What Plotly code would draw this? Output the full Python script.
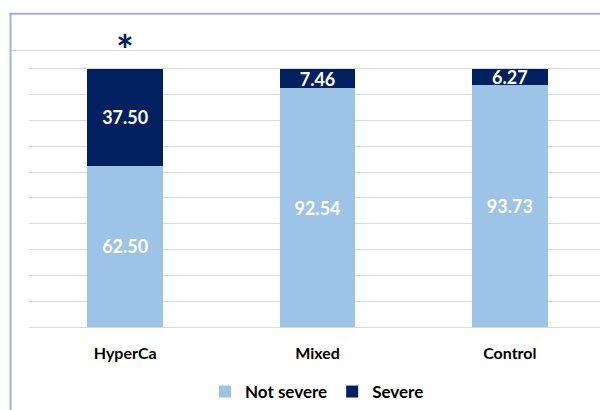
import plotly.graph_objects as go

groups = ["HyperCa", "Mixed", "Control"]
not_severe = [62.50, 92.54, 93.73]
severe = [37.50, 7.46, 6.27]

LIGHT = "#9dc3e6"
DARK = "#002060"
FONT = "Lato"

# pixel geometry of the plotting area (600x410 canvas)
W, H = 600, 410
L, R, T, B = 29, 0, 50, 82
plot_w, plot_h = W - L - R, H - T - B
y_top = 100 * plot_h / (328 - 69)


def px_x(px):
    return (px - L) / plot_w


def px_y(py):
    return (H - B - py) / plot_h


label_font = dict(family=FONT, size=18, color="white", weight="bold")

fig = go.Figure()
fig.add_trace(go.Bar(
    x=groups, y=not_severe, name="Not severe",
    marker=dict(color=LIGHT, line=dict(width=0)),
    text=[f"{v:.2f}" for v in not_severe], textposition="inside",
    insidetextanchor="middle", textfont=label_font,
))
fig.add_trace(go.Bar(
    x=groups, y=severe, name="Severe",
    marker=dict(color=DARK, line=dict(width=0)),
    text=[f"{v:.2f}" for v in severe], textposition="inside",
    insidetextanchor="middle", textfont=label_font,
))

fig.update_layout(
    width=W, height=H,
    margin=dict(l=L, r=R, t=T, b=B),
    barmode="stack", bargap=0.605,
    plot_bgcolor="white", paper_bgcolor="white",
    uniformtext=dict(minsize=18, mode="show"),
    font=dict(family=FONT, color="#000000"),
    legend=dict(
        orientation="h", x=px_x(317), xanchor="center",
        y=px_y(393), yanchor="middle",
        font=dict(family=FONT, size=17, weight="bold", color="#000000"),
        itemwidth=30, traceorder="normal",
    ),
    showlegend=True,
)
fig.update_xaxes(
    range=[-0.5, 2.5 - 6 / 192.5], showgrid=False,
    showline=True, linecolor="#d9d9d9", linewidth=1,
    ticks="", tickfont=dict(family=FONT, size=16, weight="bold", color="#000000"),
    ticklabelstandoff=12,
)
fig.update_yaxes(
    range=[0, y_top], dtick=10, showgrid=True, gridcolor="#d9d9d9",
    gridwidth=1, zeroline=False, showticklabels=False, ticks="",
)

# frame and separator lines
frame = "#9db3e3"
fig.add_shape(type="line", xref="paper", yref="paper",
              x0=px_x(10.5), x1=px_x(10.5), y0=px_y(12.5), y1=px_y(420),
              line=dict(color=frame, width=2))
fig.add_shape(type="line", xref="paper", yref="paper",
              x0=px_x(9.5), x1=px_x(610), y0=px_y(13.5), y1=px_y(13.5),
              line=dict(color=frame, width=2))
fig.add_shape(type="line", xref="paper", yref="paper",
              x0=px_x(12), x1=px_x(610), y0=px_y(50.5), y1=px_y(50.5),
              line=dict(color="#d9d9d9", width=1))

# significance marker above HyperCa
fig.add_annotation(x=groups[0], y=px_y(50), xref="x", yref="paper",
                   text="<b>*</b>", showarrow=False, yanchor="middle",
                   font=dict(family=FONT, size=42, color=DARK))

fig.write_html("out.html")
